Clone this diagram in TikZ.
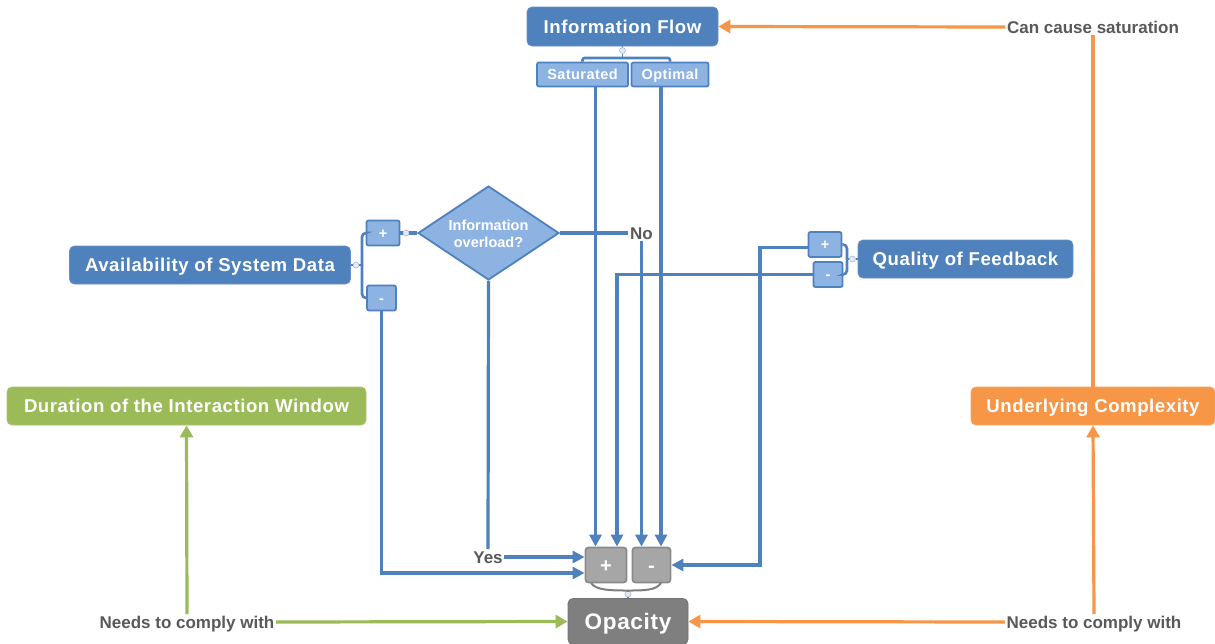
\documentclass[tikz,border=0pt]{standalone}
\usepackage{fontspec}
\setmainfont{Liberation Sans}
\newfontfamily\bfam[LetterSpace=3]{Liberation Sans}
\usetikzlibrary{arrows.meta,shapes.geometric,calc}
\definecolor{mblue}{HTML}{4F81BD}
\definecolor{mbluebd}{HTML}{6791C8}
\definecolor{lblue}{HTML}{8DB3E2}
\definecolor{pmgray}{HTML}{A6A6A6}
\definecolor{pmgraybd}{HTML}{8A8A8A}
\definecolor{opgray}{HTML}{7F7F7F}
\definecolor{mgreen}{HTML}{9BBB59}
\definecolor{morange}{HTML}{F79646}
\definecolor{lblgray}{HTML}{595959}
\definecolor{dotfill}{HTML}{E4E9F4}
\definecolor{dotdraw}{HTML}{A9B8D8}
\tikzset{
  mainbox/.style={rectangle, rounded corners=5pt, fill=mblue, draw=mbluebd, line width=0.8pt,
    text=white, inner sep=0pt, text height=13.4pt, text depth=0pt,
    font=\bfam\bfseries\fontsize{18.6}{22}\selectfont},
  greenbox/.style={mainbox, fill=mgreen, draw=mgreen!85!white},
  orangebox/.style={mainbox, fill=morange, draw=morange!85!white},
  subbox/.style={rectangle, rounded corners=2pt, fill=lblue, draw=mblue, line width=1.8pt,
    text=white, inner sep=0pt, text height=10.4pt, text depth=0pt,
    font=\bfam\bfseries\fontsize{14.5}{17}\selectfont},
  pmbox/.style={rectangle, rounded corners=3pt, fill=pmgray, draw=pmgraybd, line width=1.8pt,
    text=white, inner sep=0pt, text height=14pt, text depth=0pt,
    font=\bfseries\fontsize{20}{24}\selectfont},
  opbox/.style={rectangle, rounded corners=5pt, fill=opgray, draw=opgray!90!black, line width=0.8pt,
    text=white, inner sep=0pt, text height=16.2pt, text depth=0pt,
    font=\bfam\bfseries\fontsize{22.5}{26}\selectfont},
  dia/.style={diamond, fill=lblue, draw=mblue, line width=1.8pt, inner sep=0pt},
  diatext/.style={text=white, align=center, inner sep=0pt, font=\bfseries\fontsize{14.5}{17}\selectfont},
  lbl/.style={text=lblgray, inner sep=1.5pt, text height=12.2pt, text depth=0pt,
    font=\bfseries\fontsize{17}{20}\selectfont},
  dot/.style={circle, minimum size=6pt, inner sep=0pt, fill=dotfill, draw=dotdraw, line width=0.6pt},
  conn/.style={draw=mblue, line width=3.2pt},
  thinconn/.style={draw=mblue, line width=2.6pt},
  arr/.style={conn, -{Triangle[length=12pt,width=12pt]}},
  garr/.style={draw=mgreen, line width=3.2pt, -{Triangle[length=12pt,width=13pt]}},
  oarr/.style={draw=morange, line width=3.2pt, -{Triangle[length=12pt,width=13pt]}},
  oline/.style={draw=morange, line width=3.2pt},
}
\begin{document}
\begin{tikzpicture}[x=1pt,y=-1pt]
\useasboundingbox (0,0) rectangle (1215,643);
\fill[white] (0,0) rectangle (1215,643);

% nodes
\node[mainbox, minimum width=191pt, minimum height=39pt] (info) at (622.5,26.5) {Information Flow};
\node[subbox, minimum width=91pt, minimum height=24pt] (sat) at (582.5,74.5) {Saturated};
\node[subbox, minimum width=77pt, minimum height=24pt] (opt) at (670,74.5) {Optimal};

\node[dia, minimum width=141pt, minimum height=94pt] (ovl) at (488.5,233) {};
\node[diatext] (ovltext) at (488.5,234) {Information\\overload?};

\node[subbox, minimum width=33pt, minimum height=25pt] (plusA) at (383,233) {+};
\node[subbox, minimum width=29pt, minimum height=25pt] (minusA) at (381.5,298) {-};
\node[mainbox, minimum width=281pt, minimum height=38pt] (avail) at (210,265) {Availability of System Data};

\node[subbox, minimum width=33pt, minimum height=25pt] (plusQ) at (825,244.5) {+};
\node[subbox, minimum width=29pt, minimum height=25pt] (minusQ) at (828,274.5) {-};
\node[mainbox, minimum width=215pt, minimum height=38pt] (quality) at (965.5,259) {Quality of Feedback};

\node[pmbox, minimum width=41pt, minimum height=35pt] (plusO) at (606,565) {+};
\node[pmbox, minimum width=38pt, minimum height=35pt] (minusO) at (651.5,565) {-};
\node[opbox, minimum width=120pt, minimum height=46pt] (opacity) at (628,621.5) {Opacity};

\node[greenbox, minimum width=359pt, minimum height=38pt] (duration) at (186.5,406) {Duration of the Interaction Window};
\node[orangebox, minimum width=244pt, minimum height=38pt] (complex) at (1093,406) {Underlying Complexity};

\node[lbl] (cansat) at (1093,27) {Can cause saturation};
\node[lbl] (no) at (641.5,233) {No};
\node[lbl] (yes) at (488,557) {Yes};
\node[lbl] (needsL) at (187,622) {Needs to comply with};
\node[lbl] (needsR) at (1094,622) {Needs to comply with};

% connector dots
\node[dot] (dotT) at (622.5,50.5) {};
\node[dot] (dotA) at (356,265) {};
\node[dot] (dotP) at (406,233) {};
\node[dot] (dotQ) at (852.5,259) {};
\node[dot] (dotO) at (628,594) {};

% brackets
\coordinate (brkT) at (622.5,58);
\draw[thinconn, rounded corners=2pt] (sat.north) |- (brkT) -| (opt.north);
\draw[thinconn, line width=1.6pt] (info.south) -- (dotT.north);
\draw[thinconn, line width=1.6pt] (dotT.south) -- (brkT);

\coordinate (brkA) at (362,265);
\draw[thinconn, rounded corners=4pt] (plusA.west) -| (brkA) |- (minusA.west);
\draw[thinconn, line width=1.6pt] (avail.east) -- (dotA.west);
\draw[thinconn, line width=1.6pt] (dotA.east) -- (brkA);
\draw[conn] (plusA.east) -- (dotP.west);
\draw[conn] (dotP.east) -- (ovl.west);

\coordinate (brkQ) at (847,259);
\draw[thinconn, rounded corners=4pt] (plusQ.east) -| (brkQ) |- (minusQ.east);
\draw[thinconn, line width=1.6pt] (brkQ) -- (dotQ.west);
\draw[thinconn, line width=1.6pt] (dotQ.east) -- (quality.west);

\coordinate (bkl) at (591,583);
\coordinate (bkm) at (628,590.5);
\coordinate (bkr) at (661,583);
\draw[draw=opgray, line width=2pt] (bkl) .. controls (596,590.5) and (612,590.5) .. (bkm) .. controls (644,590.5) and (656,590.5) .. (bkr);
\draw[draw=opgray, line width=1.4pt] (bkm) -- (dotO.north);
\draw[draw=opgray, line width=1.4pt] (dotO.south) -- (opacity.north);

% blue connectors into + / -
\draw[arr] ([xshift=-10.5pt]plusO.north |- sat.south) -- ([xshift=-10.5pt]plusO.north);
\draw[arr] ([xshift=9.5pt]minusO.north |- opt.south) -- ([xshift=9.5pt]minusO.north);
\draw[conn] (ovl.east) -- (ovl.east -| no.west);
\draw[arr] (no.south) -- (no.south |- minusO.north);
\draw[conn] (ovl.south) -- (yes.north);
\draw[arr] (yes.east) -- (yes.east -| plusO.west);
\draw[arr] (minusA.south) |- ([yshift=-8pt]plusO.west);
\draw[arr] (minusQ.west) -| ([xshift=11pt]plusO.north);
\coordinate (qturn) at (760,0);
\draw[arr] ([yshift=-3pt]plusQ.west) -| (qturn |- minusO.east) -- (minusO.east);

% green and orange
\draw[garr] (needsL.east) -- (opacity.west);
\draw[garr] (needsL.north) -- (duration.south);
\draw[oarr] (needsR.west) -- (opacity.east);
\draw[oarr] (needsR.north) -- (complex.south);
\draw[oline] (complex.north) -- (cansat.south);
\draw[oarr] (cansat.west) -- (info.east);
\end{tikzpicture}
\end{document}
